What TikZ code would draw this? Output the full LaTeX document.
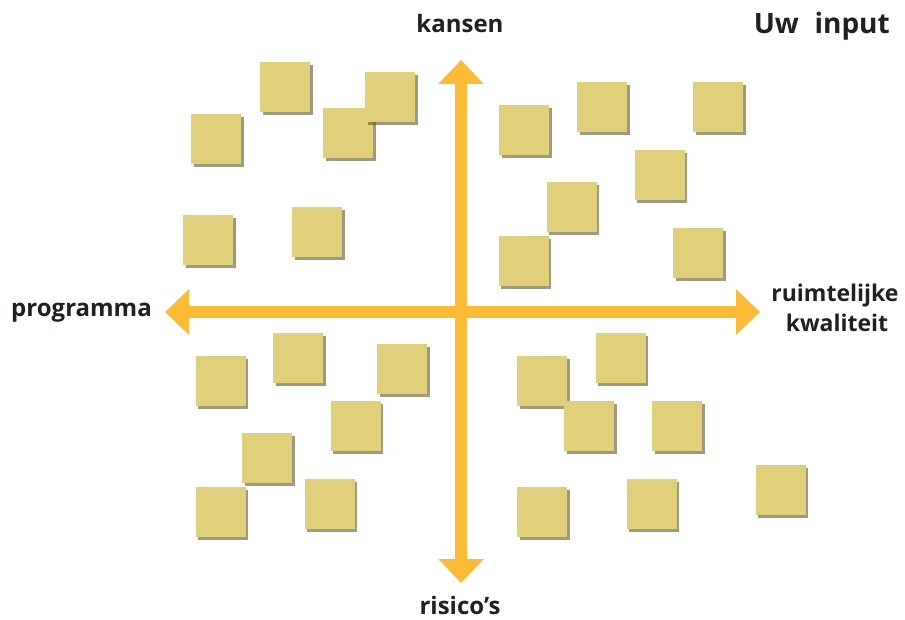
\documentclass[tikz,border=0pt]{standalone}
\usepackage{fontspec}
\setmainfont{Open Sans}
\usetikzlibrary{arrows.meta,shadows}
\definecolor{axiscol}{RGB}{253,187,53}
\definecolor{notecol}{RGB}{224,208,122}
\definecolor{shadowcol}{RGB}{95,85,40}
\definecolor{textcol}{RGB}{35,31,32}
\tikzset{
  note/.style={draw=none, fill=notecol, minimum width=50pt, minimum height=50pt, inner sep=0pt,
    drop shadow={shadow xshift=2.5pt, shadow yshift=-3pt, opacity=0.6, fill=shadowcol}},
  axis/.style={line width=12pt, color=axiscol, {Triangle[width=44pt,length=24pt]}-{Triangle[width=44pt,length=24pt]}},
  lbl/.style={text=textcol, inner sep=0pt, anchor=base},
  lblfont/.style={font=\bfseries\fontsize{24}{29}\selectfont},
  lblfontsm/.style={font=\bfseries\fontsize{23}{28}\selectfont}
}
\begin{document}
\begin{tikzpicture}[x=1pt,y=-1pt]
\useasboundingbox (0,0) rectangle (905,620);
% axes
\coordinate (vtop) at (461,60);
\coordinate (vbot) at (461,583);
\coordinate (hleft) at (165,312);
\coordinate (hright) at (760,312);
\draw[axis] (hleft) -- (hright);
\draw[axis] (vbot) -- (vtop);
% notes
\node[note] (nA) at (285,87) {};
\node[note] (nC) at (348,133) {};
\node[note] (nB) at (390,97.5) {};
\node[note] (nD) at (216,139.5) {};
\node[note] (nE) at (208,240) {};
\node[note] (nF) at (317,232) {};
\node[note] (nG) at (524,130) {};
\node[note] (nH) at (602,107) {};
\node[note] (nI) at (718,107) {};
\node[note] (nJ) at (659.5,175) {};
\node[note] (nK) at (571.5,207.5) {};
\node[note] (nL) at (523.5,261) {};
\node[note] (nM) at (698,253) {};
\node[note] (nN) at (220.5,380.5) {};
\node[note] (nO) at (298,358) {};
\node[note] (nP) at (402,368.5) {};
\node[note] (nQ) at (355.5,425.5) {};
\node[note] (nR) at (267,458) {};
\node[note] (nS) at (220.5,512) {};
\node[note] (nT) at (329.5,503.5) {};
\node[note] (nU) at (542,380.5) {};
\node[note] (nW) at (589,425.5) {};
\node[note] (nV) at (620.5,358) {};
\node[note] (nX) at (677,425.5) {};
\node[note] (nY) at (780.5,490) {};
\node[note] (nZ) at (542,511.5) {};
\node[note] (nAA) at (651.5,503.5) {};
% labels
\node[lbl, lblfont] (kansen) at (460,33) {kansen};
\node[lbl, lblfont] (risicos) at (460,614) {risico’s};
\node[lbl, lblfont, anchor=base east] (programma) at (152,317) {programma};
\node[lbl, lblfontsm] (ruimt) at (835,302) {ruimtelijke};
\node[lbl, lblfontsm] (kwal) at (837,332) {kwaliteit};
\node[lbl, anchor=base east, font=\bfseries\fontsize{28}{34}\selectfont] (uw) at (890,34) {Uw\hspace{0.3em} input};
\end{tikzpicture}
\end{document}
